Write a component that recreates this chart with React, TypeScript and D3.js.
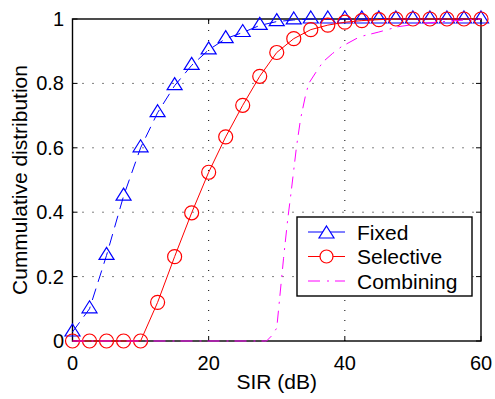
import React from "react";
import * as d3 from "d3";

const sirMarkers = [0, 2.5, 5, 7.5, 10, 12.5, 15, 17.5, 20, 22.5, 25, 27.5, 30, 32.5, 35, 37.5, 40, 42.5, 45, 47.5, 50, 52.5, 55, 57.5, 60];
const fixedValues = [0.028, 0.1, 0.266, 0.45, 0.6, 0.709, 0.793, 0.856, 0.904, 0.939, 0.958, 0.98, 0.992, 0.997, 1, 1, 1, 1, 1, 1, 1, 1, 1, 1, 1];
const selectiveValues = [0, 0, 0, 0, 0, 0.12, 0.262, 0.398, 0.524, 0.634, 0.732, 0.822, 0.896, 0.939, 0.967, 0.981, 0.99, 0.995, 0.998, 1, 1, 1, 1, 1, 1];
const combiningSir = [0, 28.5, 29.2, 30, 31, 31.6, 32.1, 32.9, 33.5, 34.2, 34.7, 35.8, 36.8, 38.2, 39.5, 42.2, 44.9, 47.8, 50.8, 55, 60];
const combiningValues = [0, 0, 0.015, 0.04, 0.257, 0.376, 0.46, 0.603, 0.69, 0.76, 0.80, 0.836, 0.867, 0.893, 0.914, 0.945, 0.959, 0.976, 0.985, 0.993, 1];
const xTicks = [0, 20, 40, 60];
const yTicks = [0, 0.2, 0.4, 0.6, 0.8, 1];
const legendLabels = ["Fixed", "Selective", "Combining"];

const W = 495, H = 399;
const L = 72.5, R = 481, T = 19, B = 341;
const font = "'Liberation Sans', Arial, Helvetica, sans-serif";

export default function App() {
  const x = d3.scaleLinear().domain([0, 60]).range([L, R]);
  const y = d3.scaleLinear().domain([0, 1]).range([B, T]);
  const line = d3.line<[number, number]>().x(d => x(d[0])).y(d => y(d[1]));
  const fixedPts = sirMarkers.map((s, i) => [s, fixedValues[i]] as [number, number]);
  const selPts = sirMarkers.map((s, i) => [s, selectiveValues[i]] as [number, number]);
  const combPts = combiningSir.map((s, i) => [s, combiningValues[i]] as [number, number]);

  const tri = (cx: number, cy: number) => `M${cx},${cy - 8} L${cx + 7.5},${cy + 4} L${cx - 7.5},${cy + 4} Z`;

  const lgX = 297, lgY = 217, lgW = 175, lgH = 79;
  const rowY = [232, 256.5, 281];

  return (
    <svg width={W} height={H} style={{ position: "absolute", left: 0, top: 0, background: "#fff" }}>
      <rect x={0} y={0} width={W} height={H} fill="#fff" />
      {/* grid */}
      <g stroke="#000" strokeWidth={1} strokeDasharray="1,9">
        {xTicks.slice(1, -1).map(t => (
          <line key={"gx" + t} x1={x(t)} x2={x(t)} y1={B} y2={T} />
        ))}
        {yTicks.slice(1, -1).map(t => (
          <line key={"gy" + t} x1={L} x2={R} y1={y(t)} y2={y(t)} />
        ))}
      </g>
      {/* ticks */}
      <g stroke="#000" strokeWidth={1}>
        {xTicks.map(t => (
          <g key={"tx" + t}>
            <line x1={x(t)} x2={x(t)} y1={B} y2={B - 5} />
            <line x1={x(t)} x2={x(t)} y1={T} y2={T + 5} />
          </g>
        ))}
        {yTicks.map(t => (
          <g key={"ty" + t}>
            <line x1={L} x2={L + 5} y1={y(t)} y2={y(t)} />
            <line x1={R} x2={R - 5} y1={y(t)} y2={y(t)} />
          </g>
        ))}
      </g>
      <rect x={L} y={T} width={R - L} height={B - T} fill="none" stroke="#000" strokeWidth={1.4} />
      {/* tick labels */}
      <g fontFamily={font} fontSize={20} fill="#000">
        {xTicks.map(t => (
          <text key={"lx" + t} x={x(t)} y={370} textAnchor="middle">{t}</text>
        ))}
        {yTicks.map(t => (
          <text key={"ly" + t} x={64} y={y(t) + 7} textAnchor="end">{String(t)}</text>
        ))}
      </g>
      <text x={(L + R) / 2} y={389} textAnchor="middle" fontFamily={font} fontSize={21}>SIR (dB)</text>
      <text transform={`translate(27,${(T + B) / 2}) rotate(-90)`} textAnchor="middle" fontFamily={font} fontSize={21}>Cummulative distribution</text>
      {/* series */}
      <path d={line(fixedPts) || ""} fill="none" stroke="#0000ff" strokeWidth={1} strokeDasharray="12,7" />
      {fixedPts.map((p, i) => (
        <path key={"f" + i} d={tri(x(p[0]), y(p[1]))} fill="none" stroke="#0000ff" strokeWidth={1.2} />
      ))}
      <path d={line(selPts) || ""} fill="none" stroke="#ff0000" strokeWidth={1} />
      {selPts.map((p, i) => (
        <circle key={"s" + i} cx={x(p[0])} cy={y(p[1])} r={7} fill="none" stroke="#ff0000" strokeWidth={1.2} />
      ))}
      <path d={line(combPts) || ""} fill="none" stroke="#ff00ff" strokeWidth={1} strokeDasharray="12,7,2,6" />
      {/* legend */}
      <rect x={lgX} y={lgY} width={lgW} height={lgH} fill="#fff" stroke="#000" strokeWidth={1.4} />
      <line x1={308} x2={345} y1={rowY[0]} y2={rowY[0]} stroke="#0000ff" strokeWidth={1} />
      <path d={tri(326.5, rowY[0] + 2)} fill="#fff" stroke="#0000ff" strokeWidth={1.2} />
      <line x1={308} x2={345} y1={rowY[1]} y2={rowY[1]} stroke="#ff0000" strokeWidth={1} />
      <circle cx={326.5} cy={rowY[1]} r={6.5} fill="#fff" stroke="#ff0000" strokeWidth={1.2} />
      <line x1={308} x2={345} y1={rowY[2]} y2={rowY[2]} stroke="#ff00ff" strokeWidth={1} strokeDasharray="12,7,2,6" />
      <g fontFamily={font} fontSize={21} fill="#000">
        {legendLabels.map((lab, i) => (
          <text key={lab} x={357} y={rowY[i] + 7.5} >{lab}</text>
        ))}
      </g>
    </svg>
  );
}
